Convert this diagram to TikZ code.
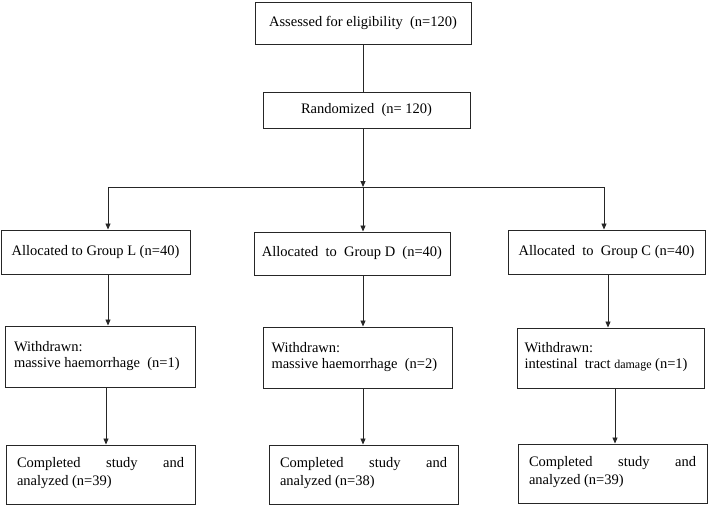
\documentclass[tikz,border=0pt]{standalone}
\usepackage{fontspec}
\setmainfont{Liberation Serif}
\usetikzlibrary{arrows.meta}
\newcommand{\topbox}[4]{\parbox[c][#1][t]{#2}{\rule{0pt}{#3}#4}}
\begin{document}
\begin{tikzpicture}[x=1pt,y=-1pt,
  box/.style={draw=black!85, line width=1pt, rectangle, inner sep=0pt,
    font=\fontsize{14.5}{16.5}\selectfont, align=center},
  conn/.style={draw=black!85, line width=0.9pt},
  arr/.style={conn, -{Triangle[width=5pt,length=6pt]}}]
\useasboundingbox (0,0) rectangle (709,506);
\fill[white] (0,0) rectangle (709,506);

\node[box, minimum width=216pt, minimum height=42pt] (A) at (363,23) {Assessed for eligibility~~(n=120)};
\node[box, minimum width=207pt, minimum height=36pt] (R) at (366.5,110) {Randomized~~(n=~120)};

\node[box, minimum width=189pt, minimum height=44pt] (GL) at (95.5,252) {Allocated to Group L (n=40)};
\node[box, minimum width=196pt, minimum height=43pt] (GD) at (352,253.5) {Allocated~ to~ Group D~ (n=40)};
\node[box, minimum width=197pt, minimum height=44pt] (GC) at (606.5,252) {Allocated~ to~ Group C (n=40)};

\node[box, minimum width=190pt] (WL) at (100,356.5)
  {\topbox{61pt}{172pt}{25pt}{\raggedright Withdrawn:\\ massive haemorrhage~ (n=1)}};
\node[box, minimum width=189pt] (WD) at (357.5,357.5)
  {\topbox{61pt}{172pt}{25pt}{\raggedright Withdrawn:\\ massive haemorrhage~ (n=2)}};
\node[box, minimum width=187pt] (WC) at (610.5,358)
  {\topbox{60pt}{172pt}{24pt}{\raggedright Withdrawn:\\ intestinal~ tract {\fontsize{12}{14}\selectfont damage} (n=1)}};

\node[box, minimum width=189pt] (CL) at (100.5,474.5)
  {\topbox{59pt}{167pt}{22.5pt}{\baselineskip=18pt Completed study and\linebreak analyzed (n=39)}};
\node[box, minimum width=189pt] (CD) at (363.5,474.5)
  {\topbox{59pt}{167pt}{22.5pt}{\baselineskip=18pt Completed study and\linebreak analyzed (n=38)}};
\node[box, minimum width=189pt] (CC) at (612.5,473.5)
  {\topbox{59pt}{167pt}{22.5pt}{\baselineskip=18pt Completed study and\linebreak analyzed (n=39)}};

\coordinate (jL) at (108,187);
\coordinate (jD) at (363,187);
\coordinate (jC) at (604,187);

\draw[conn] (A.south) -- (A.south |- R.north);
\draw[arr] (A.south |- R.south) -- (jD);
\draw[conn] (jL) -- (jC);
\draw[arr] (jL) -- (jL |- GL.north);
\draw[arr] (jD) -- (jD |- GD.north);
\draw[arr] (jC) -- (jC |- GC.north);

\draw[arr] (GL.south -| jL) -- (jL |- WL.north);
\draw[arr] (GD.south -| jD) -- (jD |- WD.north);
\coordinate (kC) at (608,0);
\draw[arr] (GC.south -| kC) -- (kC |- WC.north);

\coordinate (mL) at (106,0);
\coordinate (mC) at (615,0);
\draw[arr] (WL.south -| mL) -- (mL |- CL.north);
\draw[arr] (WD.south -| jD) -- (jD |- CD.north);
\draw[arr] (WC.south -| mC) -- (mC |- CC.north);
\end{tikzpicture}
\end{document}
